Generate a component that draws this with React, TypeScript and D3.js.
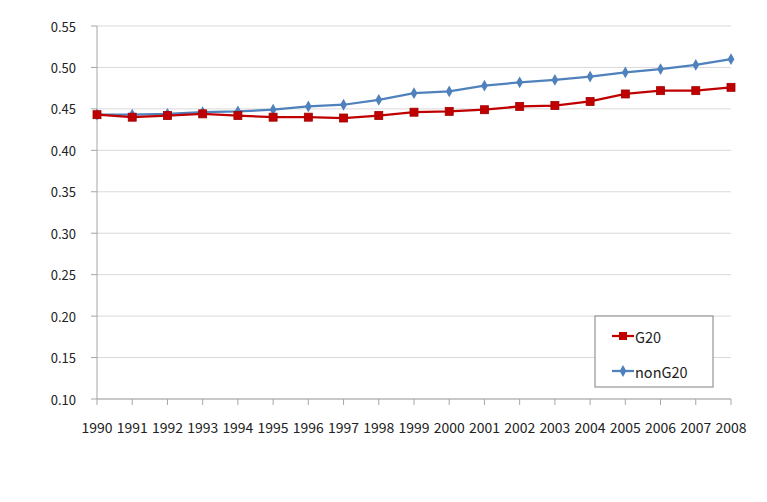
import React from "react";
import * as d3 from "d3";

const years = [1990,1991,1992,1993,1994,1995,1996,1997,1998,1999,2000,2001,2002,2003,2004,2005,2006,2007,2008];
const g20 = [0.443,0.440,0.442,0.444,0.442,0.440,0.440,0.439,0.442,0.446,0.447,0.449,0.453,0.454,0.459,0.468,0.472,0.472,0.476];
const nonG20 = [0.443,0.443,0.444,0.446,0.447,0.449,0.453,0.455,0.461,0.469,0.471,0.478,0.482,0.485,0.489,0.494,0.498,0.503,0.510];
const yTicks = [0.10,0.15,0.20,0.25,0.30,0.35,0.40,0.45,0.50,0.55];
const seriesNames = ["G20", "nonG20"];

const W = 767, H = 502;
const left = 97, right = 731, top = 26, bottom = 399;
const font = "'Noto Sans CJK KR', 'Noto Sans', sans-serif";

export default function App() {
  const x = d3.scalePoint<number>().domain(years).range([left, right]);
  const y = d3.scaleLinear().domain([0.10, 0.55]).range([bottom, top]);
  const line = d3.line<number>().x((_, i) => x(years[i])!).y(d => y(d));
  const red = "#c00000";
  const blue = "#4f81bd";
  const diamond = d3.symbol().type(d3.symbolDiamond).size(40)()!;
  return (
    <div style={{ position: "fixed", left: 0, top: 0 }}>
      <svg width={W} height={H} style={{ display: "block", background: "#fff" }}>
        {yTicks.map(t => (
          <g key={t}>
            <line x1={left} x2={right} y1={y(t)} y2={y(t)} stroke="#d9d9d9" strokeWidth={1} />
            <line x1={left - 6} x2={left} y1={y(t)} y2={y(t)} stroke="#a6a6a6" strokeWidth={1} />
            <text x={76} y={y(t)} textAnchor="end" dominantBaseline="central" fontFamily={font} fontSize={13} fill="#222">{t.toFixed(2)}</text>
          </g>
        ))}
        <line x1={left} x2={left} y1={top} y2={bottom} stroke="#a6a6a6" strokeWidth={1} />
        <line x1={left} x2={right} y1={bottom} y2={bottom} stroke="#a6a6a6" strokeWidth={1} />
        {years.map(yr => (
          <g key={yr}>
            <line x1={x(yr)} x2={x(yr)} y1={bottom} y2={bottom + 6} stroke="#a6a6a6" strokeWidth={1} />
            <text x={x(yr)! - 15.5} y={427} textLength={31} lengthAdjust="spacingAndGlyphs" dominantBaseline="central" fontFamily={font} fontSize={14} fill="#222">{yr}</text>
          </g>
        ))}
        <path d={line(nonG20)!} fill="none" stroke={blue} strokeWidth={2.25} />
        {nonG20.map((v, i) => (
          <path key={i} d={diamond} transform={`translate(${x(years[i])},${y(v)})`} fill={blue} />
        ))}
        <path d={line(g20)!} fill="none" stroke={red} strokeWidth={2.25} />
        {g20.map((v, i) => (
          <rect key={i} x={x(years[i])! - 4} y={y(v) - 4} width={8} height={8} fill={red} stroke="#a00000" strokeWidth={0.8} />
        ))}
        <g>
          <rect x={595} y={316} width={118} height={71} fill="#fff" stroke="#808080" strokeWidth={1} />
          <line x1={612} x2={634} y1={336} y2={336} stroke={red} strokeWidth={2.25} />
          <rect x={619} y={332} width={8} height={8} fill={red} />
          <text x={635} y={336} dominantBaseline="central" fontFamily={font} fontSize={14.5} fill="#222">{seriesNames[0]}</text>
          <line x1={612} x2={634} y1={371} y2={371} stroke={blue} strokeWidth={2.25} />
          <path d={diamond} transform="translate(623,371)" fill={blue} />
          <text x={635} y={371} dominantBaseline="central" fontFamily={font} fontSize={14.5} fill="#222">{seriesNames[1]}</text>
        </g>
      </svg>
    </div>
  );
}
